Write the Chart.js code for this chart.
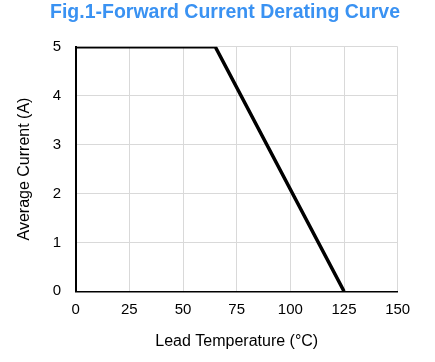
<!DOCTYPE html>
<html>
<head>
<meta charset="utf-8">
<script src="https://cdn.jsdelivr.net/npm/chart.js@4"></script>
<style>
  body { margin: 0; background: #fff; }
  #curve { display: block; }
</style>
</head>
<body>
<canvas id="curve" width="435" height="362"></canvas>
<script>
// derating curve points
var temps = [0, 65, 125];
var amps = [5, 5, 0];
var xTicks = [0, 25, 50, 75, 100, 125, 150];
var yTicks = [0, 1, 2, 3, 4, 5];
var titleText = 'Fig.1-Forward Current Derating Curve';

var points = temps.map(function (t, i) { return {x: t, y: amps[i]}; });
var font = 'Arial, "Liberation Sans", sans-serif';

// title sits a bit left of the plot centre in the original, so draw it by hand
var figTitle = {
    id: 'figTitle',
    afterDraw: function (c) {
        var g = c.ctx;
        g.save();
        g.font = 'bold 19.5px ' + font;
        g.fillStyle = '#3a92f2';
        g.textAlign = 'center';
        g.textBaseline = 'alphabetic';
        g.fillText(titleText, 225, 17.5);
        g.restore();
    }
};

var ctx = document.getElementById('curve').getContext('2d');
var chart = new Chart(ctx, {
    type: 'scatter',
    data: {
        datasets: [{
            data: points,
            showLine: true,
            borderColor: '#000',
            borderWidth: 3.5,
            pointRadius: 0,
            fill: false
        }]
    },
    options: {
        responsive: false,
        animation: false,
        layout: { padding: { left: 0, right: 37.3, top: 46.7, bottom: 0 } },
        plugins: {
            legend: { display: false },
            tooltip: { enabled: false },
            title: { display: false }
        },
        scales: {
            x: {
                type: 'linear',
                min: 0,
                max: 150,
                afterBuildTicks: function (s) { s.ticks = xTicks.map(function (v) { return {value: v}; }); },
                afterFit: function (s) { s.height = 70.7; },
                grid: { color: '#d9d9d9', drawTicks: false },
                border: { color: '#000', width: 1.5 },
                ticks: { color: '#000', font: { family: font, size: 15 }, padding: 10 },
                title: {
                    display: true,
                    text: 'Lead Temperature (°C)',
                    color: '#000',
                    font: { family: font, size: 16 },
                    padding: { top: 13, bottom: 10.4 }
                }
            },
            y: {
                min: 0,
                max: 5,
                afterBuildTicks: function (s) { s.ticks = yTicks.map(function (v) { return {value: v}; }); },
                afterFit: function (s) { s.width = 75.7; },
                grid: { color: '#d9d9d9', drawTicks: false },
                border: { color: '#000', width: 2 },
                ticks: { color: '#000', font: { family: font, size: 15 }, padding: 14.7 },
                title: {
                    display: true,
                    text: 'Average Current (A)',
                    color: '#000',
                    font: { family: font, size: 16 },
                    padding: { top: 15.4, bottom: 18 }
                }
            }
        }
    },
    plugins: [figTitle]
});
</script>
</body>
</html>
